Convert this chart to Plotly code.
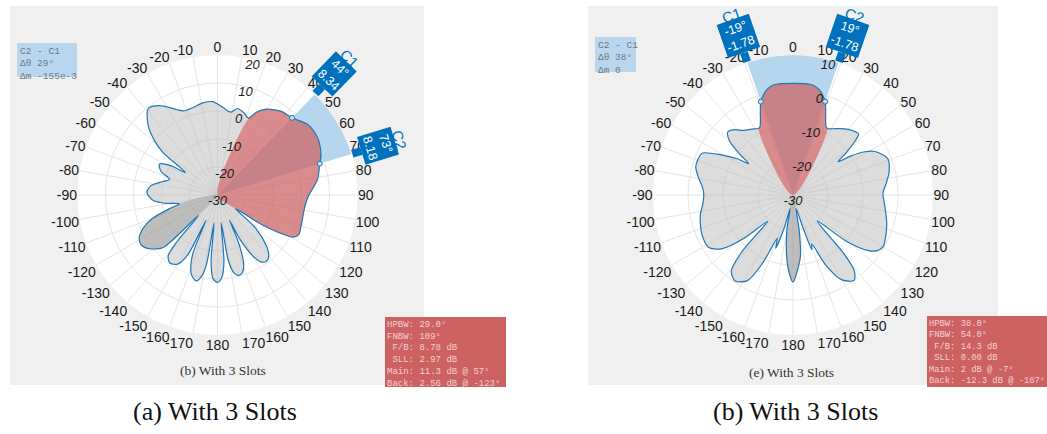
import math
import plotly.graph_objects as go

W, H = 1047, 434

# ---------------- Panel (a): "(b) With 3 Slots" ----------------
a_theta = [-180, -177, -174.5, -173, -171, -169, -166, -162, -159, -157, -155.5, -153.5, -150, -145,
           -141, -139, -137, -134, -130, -126, -123, -119, -114, -110, -106, -103,
           -99, -95, -88, -82, -76, -72, -67, -62, -58, -55, -52, -49, -45, -40, -38,
           -33, -29, -25, -22, -16, -9, -3, 0, 4, 9, 13, 18, 22,
           25, 29, 37, 44, 52, 57, 62, 69, 73, 81, 91, 97, 103, 110, 116, 119, 121, 124, 127,
           131, 136, 140, 143.6, 147, 150, 153, 154.5, 156, 159, 162, 165, 168, 170.5, 172.5,
           174.5, 177]
a_gain = [1.2, 0.0, -6, -20, -5, -0.5, 1.6, 0.0, -3.5, -8, -20, -6, -1.5, -0.35,
          -2, -8, -20, -3, 0.0, 2.0, 2.56, 2.0, -1, -5, -12, -16,
          -11, -7, -4.8, -6, -10, -12, -8, -6.5, -10, -16, -5, 0.0, 5, 9, 9.6,
          8.1, 5.8, 3.5, 2.4, 2.4, 3.3, 3.4, 2.5, 1.2, 0.0, 1.7, 0.8, -0.4,
          2.5, 5.0, 7.5, 8.34, 10.9, 11.3, 11.0, 9.6, 8.18, 6.2, 2.4, 1.5, 1.4, 1.8, 2.3, 1.0, -3, -12, -22,
          -12, -5, -1.5, -0.6, -1.5, -5, -12, -20, -12, -4, -1, -0.3, -1.5, -6, -20,
          -6, -0.5]
a_cursor_theta = [44, 73]
a_cursor_gain = [8.34, 8.18]
a_main_lobe = [22, 127]
a_back_lobe = [-137, -103]
a_radial_range = [-30, 20]
a_radial_ticks = [-30, -20, -10, 0, 10, 20]
a_delta_lines = ["C2 - C1", "Δθ 29°", "Δm -155e-3"]
a_metric_lines = ["HPBW: 29.0°", "FNBW: 109°", " F/B: 8.78 dB", " SLL: 2.97 dB",
                  "Main: 11.3 dB @ 57°", "Back: 2.56 dB @ -123°"]
a_inner_caption = "(b) With 3 Slots"
a_caption = "(a) With 3 Slots"

# ---------------- Panel (b): "(e) With 3 Slots" ----------------
b_theta = [-180, -176.5, -174, -170, -168, -165, -162, -160, -156, -152, -146, -141, -138, -136,
           -131.5, -127, -121.7, -114, -108, -101.7, -95, -89, -84, -80.5, -74, -69, -65.3,
           -60.8, -57, -54.7, -52.7, -49.6, -46, -42, -37.3, -32, -27.5, -26, -24, -21.3, -19,
           -16.8, -14, -10.5, -7, 0, 7, 10.5, 14, 16.8, 19, 21.3, 24, 26, 27.5, 33, 40, 47, 49,
           51.5, 53.6, 56, 59, 62, 69, 76.7, 83, 89, 95, 101.6, 107, 113.3, 120, 123.5, 126.4,
           131, 137, 139, 141, 144.4, 150, 155, 159, 161, 163, 167, 170, 173, 176.5]
b_gain = [-5.1, -8.6, -12.5, -20, -26, -20, -14, -16.8, -8.8, -2.3, -0.4, -2, -8, -19.6,
          -11.2, -4.4, -1.6, -1.6, -2.2, -3.0, -4.2, -4.5, -3.8, -2.8, -1.1, -1.0, -1.4,
          -6.5, -11, -14.5, -11.1, -6.2, -4.1, -4.9, -6.8, -7.8, -8.6, -8.4, -7.1, -4.3, -1.78,
          -0.4, 1.0, 1.9, 2.0, 1.9, 2.0, 1.9, 1.0, -0.4, -1.78, -4.3, -7.1, -8.4, -8.6, -7.4, -5.5, -4.4, -6.5,
          -10.5, -14, -10, -6, -3.5, -1.0, -1.8, -3.2, -4.3, -3.8, -2.9, -2.0, -1.1, -0.3, -1.2, -3.2,
          -10, -19.8, -8, -2.2, 0.0, -2, -8, -15, -13.5, -20, -26, -20, -12.5, -8.6]
b_cursor_theta = [-19, 19]
b_cursor_gain = [-1.78, -1.78]
b_main_lobe = [-27.5, 27.5]
b_back_lobe = [170, 190]
b_radial_range = [-30, 10]
b_radial_ticks = [-30, -20, -10, 0, 10]
b_delta_lines = ["C2 - C1", "Δθ 38°", "Δm 0"]
b_metric_lines = ["HPBW: 38.0°", "FNBW: 54.0°", " F/B: 14.3 dB", " SLL: 0.00 dB",
                  "Main: 2 dB @ -7°", "Back: -12.3 dB @ -187°"]
b_inner_caption = "(e) With 3 Slots"
b_caption = "(b) With 3 Slots"

cursor_names = ["C1", "C2"]
angle_ticks = list(range(0, 360, 10))
angle_labels = [str(v if v <= 180 else v - 360) for v in angle_ticks]
radial_label_theta = 14.5

# ---------------- styling ----------------
LINE_BLUE = "#1f77b4"
CURSOR_BLUE = "#0072bd"
GRAY_FILL = "rgba(185,185,185,0.5)"
RED_FILL = "rgba(215,60,60,0.5)"
DARK_FILL = "rgba(120,120,120,0.3)"
SPAN_FILL = "rgba(181,214,237,1)"
GRID = "#e6e6e6"
PANEL_BG = "#f0f0f0"
R_PX = 140

panels = [
    dict(sp="polar", cx=217.5, cy=195, theta=a_theta, gain=a_gain, ct=a_cursor_theta, cg=a_cursor_gain,
         main=a_main_lobe, back=a_back_lobe, rr=a_radial_range, rt=a_radial_ticks,
         delta=a_delta_lines, metrics=a_metric_lines, inner=a_inner_caption, cap=a_caption,
         panel=(10, 6, 424, 385), dbox=(17, 43, 77, 77), mbox=(385, 317, 506, 387), mfont=9,
         inner_xy=(223, 370), cap_xy=(215, 411)),
    dict(sp="polar2", cx=793, cy=195, theta=b_theta, gain=b_gain, ct=b_cursor_theta, cg=b_cursor_gain,
         main=b_main_lobe, back=b_back_lobe, rr=b_radial_range, rt=b_radial_ticks,
         delta=b_delta_lines, metrics=b_metric_lines, inner=b_inner_caption, cap=b_caption,
         panel=(588, 6, 998, 385), dbox=(595, 37, 636, 72), mbox=(927, 316, 1047, 387), mfont=8.8,
         inner_xy=(791, 372), cap_xy=(795, 411)),
]


def px(x):
    return x / W


def py(y):
    return 1 - y / H


def lobe(theta, gain, lo, hi, base):
    pts = []
    for t, g in zip(theta, gain):
        tt = t
        while tt < lo:
            tt += 360
        if tt <= hi:
            pts.append((tt, g))
    pts.sort()
    th = [t for t, _ in pts]
    gg = [g for _, g in pts]
    return [lo] + th + [hi], [base] + gg + [base]


fig = go.Figure()
shapes = []
annotations = []
layout_polars = {}

for p in panels:
    sp = p["sp"]
    rr = p["rr"]
    lo, hi = p["ct"]
    # span sector between the two cursors
    fig.add_trace(go.Barpolar(r=[rr[1] - rr[0]], base=rr[0], theta=[(lo + hi) / 2], width=[hi - lo],
                              marker=dict(color=SPAN_FILL, line=dict(width=0)), subplot=sp,
                              showlegend=False, hoverinfo="skip"))
    th = p["theta"] + [p["theta"][0]]
    g = p["gain"] + [p["gain"][0]]
    fig.add_trace(go.Scatterpolar(r=g, theta=th, mode="lines", fill="toself", fillcolor=GRAY_FILL,
                                  line=dict(width=0, shape="spline", smoothing=0.8), subplot=sp,
                                  showlegend=False, hoverinfo="skip"))
    mt, mg = lobe(p["theta"], p["gain"], p["main"][0], p["main"][1], rr[0])
    fig.add_trace(go.Scatterpolar(r=mg, theta=mt, mode="lines", fill="toself", fillcolor=RED_FILL,
                                  line=dict(width=0, shape="spline", smoothing=0.8), subplot=sp,
                                  showlegend=False, hoverinfo="skip"))
    bt, bg = lobe(p["theta"], p["gain"], p["back"][0], p["back"][1], rr[0])
    fig.add_trace(go.Scatterpolar(r=bg, theta=bt, mode="lines", fill="toself", fillcolor=DARK_FILL,
                                  line=dict(width=0, shape="spline", smoothing=0.8), subplot=sp,
                                  showlegend=False, hoverinfo="skip"))
    fig.add_trace(go.Scatterpolar(r=g, theta=th, mode="lines",
                                  line=dict(color=LINE_BLUE, width=1.2, shape="spline", smoothing=0.8),
                                  subplot=sp, showlegend=False, hoverinfo="skip"))
    fig.add_trace(go.Scatterpolar(r=p["cg"], theta=p["ct"], mode="markers",
                                  marker=dict(size=5, color="#c9e0f2", line=dict(color=LINE_BLUE, width=1)),
                                  subplot=sp, showlegend=False, hoverinfo="skip"))
    # radial (magnitude) tick labels, just below their rings
    fig.add_trace(go.Scatterpolar(r=p["rt"], theta=[radial_label_theta] * len(p["rt"]), mode="text",
                                  text=[str(v) for v in p["rt"]], textposition="bottom center",
                                  textfont=dict(family="Liberation Sans, Arial", size=13, color="#1a1a1a",
                                                style="italic"),
                                  subplot=sp, showlegend=False, hoverinfo="skip", cliponaxis=False))

    cx, cy = p["cx"], p["cy"]
    layout_polars[sp] = dict(
        domain=dict(x=[px(cx - R_PX), px(cx + R_PX)], y=[py(cy + R_PX), py(cy - R_PX)]),
        bgcolor="white",
        angularaxis=dict(rotation=90, direction="clockwise", tickmode="array", tickvals=angle_ticks,
                         ticktext=angle_labels, ticks="", showline=False, gridcolor=GRID,
                         tickfont=dict(family="Liberation Sans, Arial", size=14, color="#1a1a1a")),
        radialaxis=dict(range=rr, tickmode="array", tickvals=p["rt"], showticklabels=False,
                        ticks="", showline=False, gridcolor=GRID),
    )

    # panel background
    x0, y0, x1, y1 = p["panel"]
    shapes.append(dict(type="rect", xref="paper", yref="paper", x0=px(x0), x1=px(x1), y0=py(y1), y1=py(y0),
                       fillcolor=PANEL_BG, line=dict(width=0), layer="below"))
    # delta box
    x0, y0, x1, y1 = p["dbox"]
    shapes.append(dict(type="rect", xref="paper", yref="paper", x0=px(x0), x1=px(x1), y0=py(y1), y1=py(y0),
                       fillcolor="#b8d7ee", line=dict(width=0), layer="above"))
    annotations.append(dict(x=px(x0 + 1), y=py(y0 + 1), xref="paper", yref="paper", xanchor="left",
                            yanchor="top", align="left", showarrow=False,
                            text="<br>".join(s.replace(" ", "\u00a0") for s in p["delta"]),
                            font=dict(family="Liberation Mono, Courier New", size=9.5, color="#6f7b86")))
    # metrics box
    x0, y0, x1, y1 = p["mbox"]
    shapes.append(dict(type="rect", xref="paper", yref="paper", x0=px(x0), x1=px(x1), y0=py(y1), y1=py(y0),
                       fillcolor="#cd6262", line=dict(width=0), layer="above"))
    annotations.append(dict(x=px(x0), y=py(y0 + 1), xref="paper", yref="paper", xanchor="left",
                            yanchor="top", align="left", showarrow=False,
                            text="<br>".join(s.replace(" ", "\u00a0") for s in p["metrics"]),
                            font=dict(family="Liberation Mono, Courier New", size=p["mfont"], color="#f3cfcf")))
    # inner caption
    annotations.append(dict(x=px(p["inner_xy"][0]), y=py(p["inner_xy"][1]), xref="paper", yref="paper",
                            xanchor="center", yanchor="middle", showarrow=False, text=p["inner"],
                            font=dict(family="Liberation Serif, Times New Roman", size=13.5, color="#333333")))
    # outer caption
    annotations.append(dict(x=px(p["cap_xy"][0]), y=py(p["cap_xy"][1]), xref="paper", yref="paper",
                            xanchor="center", yanchor="middle", showarrow=False, text=p["cap"],
                            font=dict(family="Liberation Serif, Times New Roman", size=26, color="#111111")))
    # cursor callouts
    for name, ang, val in zip(cursor_names, p["ct"], p["cg"]):
        s, c = math.sin(math.radians(ang)), math.cos(math.radians(ang))
        tipx, tipy = cx + (R_PX + 1) * s, cy - (R_PX + 1) * c
        annotations.append(dict(x=px(tipx), y=py(tipy), xref="paper", yref="paper",
                                ax=27 * s, ay=-27 * c, showarrow=True, arrowhead=0, arrowwidth=8,
                                arrowcolor=CURSOR_BLUE, standoff=0, startstandoff=0,
                                text=f"{ang}°<br>{val}", textangle=ang, bgcolor=CURSOR_BLUE, borderpad=2,
                                font=dict(family="Liberation Sans, Arial", size=12.5, color="white")))
        lx, ly = cx + (R_PX + 50) * s, cy - (R_PX + 50) * c
        annotations.append(dict(x=px(lx), y=py(ly), xref="paper", yref="paper", showarrow=False,
                                xanchor="center", yanchor="middle", text=name, textangle=ang,
                                font=dict(family="Liberation Sans, Arial", size=15, color=CURSOR_BLUE)))

fig.update_layout(width=W, height=H, autosize=False, margin=dict(l=0, r=0, t=0, b=0),
                  paper_bgcolor="white", showlegend=False, shapes=shapes, annotations=annotations,
                  **layout_polars)

fig.write_html("out.html", config={"displayModeBar": False},
               post_script="document.body.style.margin='0px';")
